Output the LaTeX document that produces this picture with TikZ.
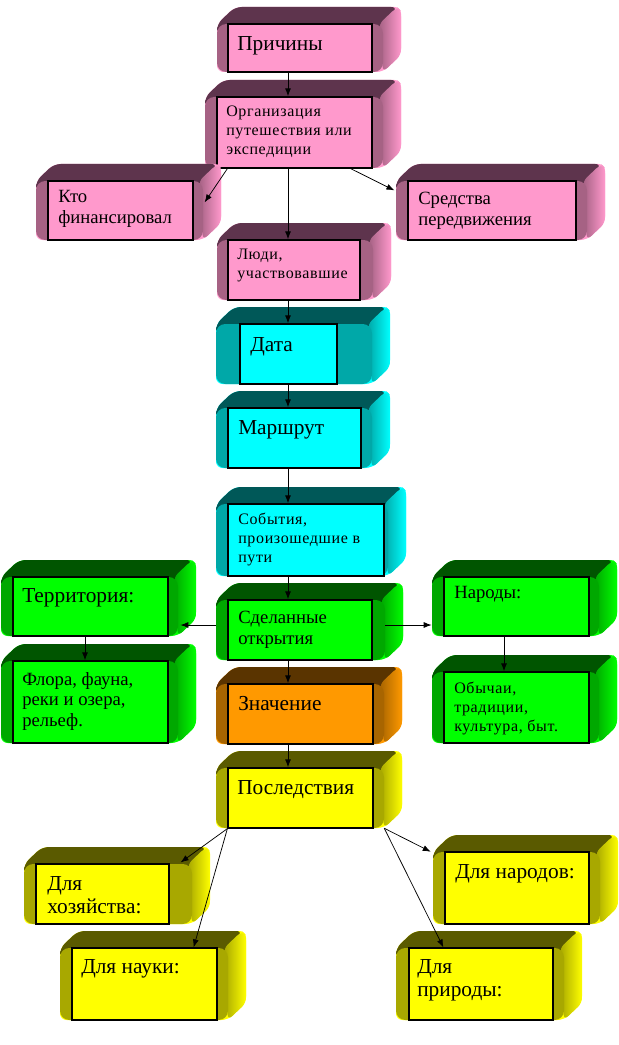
\documentclass[tikz,border=0pt]{standalone}
\usepackage{fontspec}
\setmainfont{Liberation Serif}
\usetikzlibrary{arrows.meta,fit,calc}
\definecolor{pkL}{HTML}{FF99CC}\definecolor{pkM}{RGB}{166,98,132}\definecolor{pkD}{RGB}{94,52,77}
\definecolor{cyL}{HTML}{00FFFF}\definecolor{cyM}{RGB}{0,168,168}\definecolor{cyD}{RGB}{0,88,88}
\definecolor{grL}{HTML}{00FF00}\definecolor{grM}{RGB}{0,168,0}\definecolor{grD}{RGB}{0,85,0}
\definecolor{orL}{HTML}{FF9900}\definecolor{orM}{RGB}{168,101,0}\definecolor{orD}{RGB}{90,52,0}
\definecolor{yeL}{HTML}{FFFF00}\definecolor{yeM}{RGB}{168,168,0}\definecolor{yeD}{RGB}{90,90,0}
\newcommand{\blk}[8]{%
  \fill[#8L, rounded corners=5] (#6,#5) -- (#6,#3) -- (#6+18,#3-17) -- (#7+18,#3-17) -- (#7+18,#5-17) -- (#7,#5) -- cycle;
  \fill[#8D, rounded corners=5] (#6,#3+10) -- (#6,#3) -- (#6+18,#3-17) -- (#7+15,#3-17) -- (#7-2,#3) -- (#7-2,#3+10) -- cycle;
  \shade[left color=#8M, right color=#8L, rounded corners=4] (#7-4,#3) -- (#7+14,#3-17) -- (#7+18,#3-13) -- (#7+18,#5-17) -- (#7,#5) -- cycle;
  \fill[#8M, rounded corners=7] (#6,#3) rectangle (#7,#5);
  \node[fit={(#6,#3) (#7,#5)}, inner sep=0pt] (#1b) {};
  \node[fit={(#2,#3) (#4,#5)}, inner sep=0pt, draw, line width=0.9pt, fill=#8L] (#1) {};
}
\tikzset{
  txt/.style={anchor=north west, inner sep=0pt, align=left},
  bigA/.style={txt, font=\fontsize{16}{17.5}\selectfont},
  bigB/.style={txt, font=\fontsize{14}{15.5}\selectfont},
  smallT/.style={txt, font=\fontsize{12}{14}\selectfont\addfontfeatures{LetterSpace=4}},
  arr/.style={line width=0.75pt, -{Latex[length=6pt,width=4.5pt]}},
  thinarr/.style={line width=0.55pt, -{Latex[length=6pt,width=4.5pt]}}
}
\begin{document}
\begin{tikzpicture}[x=0.75pt,y=-0.75pt]
\fill[white] (0,0) rectangle (618,1045);
\useasboundingbox (0,0) rectangle (618,1045);
% blocks: name, x1,y1,x2,y2, bx1,bx2, colour
\blk{prich}{228}{24}{372}{72}{217}{383}{pk}
\blk{org}{217}{97}{372}{168}{205}{383}{pk}
\blk{kto}{48}{181}{193}{240}{36}{203}{pk}
\blk{sred}{408}{181}{576}{240}{396}{587}{pk}
\blk{lyudi}{228}{240}{360}{300}{217}{373}{pk}
\blk{data}{240}{324}{337}{384}{216}{372}{cy}
\blk{marsh}{228}{408}{361}{468}{216}{372}{cy}
\blk{sob}{228}{504}{384}{576}{216}{388}{cy}
\blk{terr}{13}{577}{168}{636}{1}{178}{gr}
\blk{flora}{13}{661}{168}{743}{1}{178}{gr}
\blk{sdel}{228}{600}{372}{660}{216}{385}{gr}
\blk{narod}{444}{577}{589}{636}{432}{599}{gr}
\blk{obych}{444}{672}{589}{743}{432}{599}{gr}
\blk{znach}{228}{684}{373}{744}{216}{384}{or}
\blk{posl}{228}{768}{373}{828}{216}{384}{ye}
\blk{hoz}{36}{864}{169}{924}{24}{192}{ye}
\blk{narody}{445}{852}{589}{924}{433}{600}{ye}
\blk{nauka}{72}{948}{217}{1020}{60}{228}{ye}
\blk{prir}{409}{948}{553}{1020}{396}{564}{ye}
% texts
\node[bigA] (prich-t) at (237,36) {Причины};
\node[smallT] (org-t) at (226,106) {Организация\\путешествия или\\экспедиции};
\node[bigB] (kto-t) at (58,190) {Кто\\финансировал};
\node[bigB] (sred-t) at (418,192) {Средства\\передвижения};
\node[smallT] (lyudi-t) at (237,249) {Люди,\\участвовавшие};
\node[bigA] (data-t) at (250,337) {Дата};
\node[bigA] (marsh-t) at (238,420) {Маршрут};
\node[smallT] (sob-t) at (238,513) {События,\\произошедшие в\\пути};
\node[bigA] (terr-t) at (22,588) {Территория:};
\node[bigB] (flora-t) at (22,672) {Флора, фауна,\\реки и озера,\\рельеф.};
\node[bigB] (sdel-t) at (238,611) {Сделанные\\открытия};
\node[bigB] (narod-t) at (454,586) {Народы:};
\node[smallT] (obych-t) at (454,682) {Обычаи,\\традиции,\\культура, быт.};
\node[bigA] (znach-t) at (238,696) {Значение};
\node[bigA] (posl-t) at (237,780) {Последствия};
\node[bigA] (hoz-t) at (47,876) {Для\\хозяйства:};
\node[bigA] (narody-t) at (455,864) {Для народов:};
\node[bigA] (nauka-t) at (81,959) {Для науки:};
\node[bigA] (prir-t) at (417,959) {Для\\природы:};
% helper coordinates
\coordinate (ax) at (288,0);
\coordinate (hy) at (0,625);
\coordinate (fx) at (85,0);
\coordinate (nx) at (504,0);
% connectors
\draw[arr] (prich.south -| ax) -- (org.north -| ax);
\draw[thinarr] ($(org.south west)+(11,0)$) -- ($(kto.north east)+(11,22)$);
\draw[thinarr] ($(org.south east)+(-22,0)$) -- ($(sred.north west)+(-13,10)$);
\draw[arr] (org.south -| ax) -- (lyudi.north -| ax);
\draw[arr] (lyudi.south -| ax) -- (data.north -| ax);
\draw[arr] (data.south -| ax) -- (marsh.north -| ax);
\draw[arr] (marsh.south -| ax) -- (sob.north -| ax);
\draw[arr] (sob.south -| ax) -- (sdel.north -| ax);
\draw[arr] (sdel.south -| ax) -- (znach.north -| ax);
\draw[arr] (znach.south -| ax) -- (posl.north -| ax);
\draw[arr] (sdelb.west |- hy) -- ($(terrb.east |- hy)+(2,0)$);
\draw[arr] (sdelb.east |- hy) -- (narodb.west |- hy);
\draw[arr] (terr.south -| fx) -- (flora.north -| fx);
\draw[arr] (narod.south -| nx) -- (obych.north -| nx);
\draw[thinarr] (posl.south west) -- ($(hoz.north east)+(11,-1)$);
\draw[thinarr] (posl.south west) -- ($(nauka.north east)+(-24,0)$);
\draw[thinarr] (poslb.south east) -- ($(narodyb.north west)+(-2,0)$);
\draw[thinarr] (poslb.south east) -- ($(prir.north west)+(35,0)$);
\end{tikzpicture}
\end{document}
